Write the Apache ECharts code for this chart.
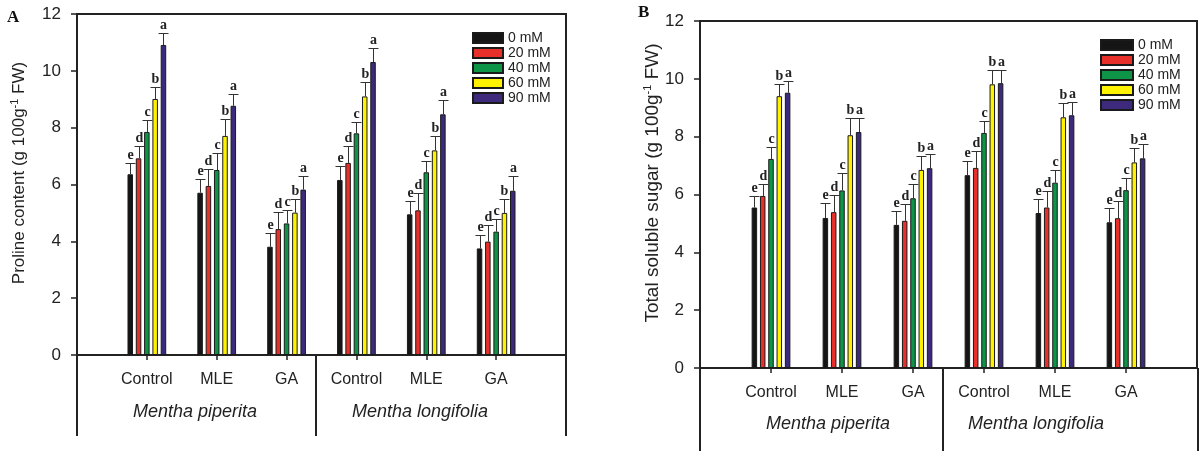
<!DOCTYPE html>
<html>
<head>
<meta charset="utf-8">
<script src="https://cdn.jsdelivr.net/npm/echarts@6/dist/echarts.min.js"></script>
<style>
html, body { margin: 0; padding: 0; background: #fff; }
#chart { width: 1200px; height: 451px; }
</style>
</head>
<body>
<div id="chart"></div>
<script>
const treatments = ['Control', 'MLE', 'GA', 'Control', 'MLE', 'GA'];
const species = ['Mentha piperita', 'Mentha longifolia'];
const concentrations = ['0 mM', '20 mM', '40 mM', '60 mM', '90 mM'];
const letters = ['e', 'd', 'c', 'b', 'a'];

// A: proline content (g 100g-1 FW), one array per concentration, over the 6 treatments
const proline0 = [6.36, 5.71, 3.81, 6.16, 4.95, 3.75];
const proline20 = [6.92, 5.95, 4.43, 6.76, 5.09, 3.99];
const proline40 = [7.85, 6.51, 4.63, 7.80, 6.43, 4.34];
const proline60 = [9.01, 7.71, 5.01, 9.10, 7.20, 5.00];
const proline90 = [10.91, 8.77, 5.82, 10.31, 8.47, 5.78];
const prolineErr0 = [0.38, 0.47, 0.49, 0.49, 0.48, 0.47];
const prolineErr20 = [0.44, 0.58, 0.60, 0.59, 0.60, 0.58];
const prolineErr40 = [0.41, 0.60, 0.46, 0.41, 0.41, 0.43];
const prolineErr60 = [0.43, 0.58, 0.47, 0.51, 0.51, 0.48];
const prolineErr90 = [0.42, 0.42, 0.49, 0.49, 0.50, 0.51];

// B: total soluble sugar (g 100g-1 FW)
const sugar0 = [5.55, 5.19, 4.95, 6.67, 5.36, 5.04];
const sugar20 = [5.95, 5.39, 5.09, 6.92, 5.55, 5.18];
const sugar40 = [7.23, 6.14, 5.87, 8.13, 6.41, 6.15];
const sugar60 = [9.40, 8.05, 6.85, 9.81, 8.67, 7.11];
const sugar90 = [9.52, 8.16, 6.91, 9.85, 8.74, 7.25];
const sugarErr0 = [0.41, 0.53, 0.48, 0.48, 0.48, 0.50];
const sugarErr20 = [0.42, 0.60, 0.58, 0.60, 0.57, 0.58];
const sugarErr40 = [0.40, 0.60, 0.49, 0.41, 0.44, 0.41];
const sugarErr60 = [0.42, 0.58, 0.49, 0.49, 0.50, 0.51];
const sugarErr90 = [0.40, 0.47, 0.48, 0.45, 0.45, 0.50];

const yMin = 0, yMax = 12, yStep = 2;

const colors = ['#151515', '#E8302B', '#0E9447', '#FFF200', '#3D2A7D'];
const sans = '"Liberation Sans", Arial, sans-serif';
const serif = '"Liberation Serif", "Times New Roman", serif';
const ink = '#222';

const BAR_W = 5.5;
const BAR_GAP = 0.51;
const PITCH = BAR_W * (1 + BAR_GAP);

const panels = [
  { left: 77, top: 14, width: 489, height: 341, divider: 316, bottom: 436, speciesDy: 57,
    means: [proline0, proline20, proline40, proline60, proline90],
    errs: [prolineErr0, prolineErr20, prolineErr40, prolineErr60, prolineErr90],
    tag: 'A', name: 'Proline content (g 100g', nameSize: 17, nameX: 19, nameY: 173,
    speciesX: [195, 420], legendLeft: 472, legendTop: 31, legendW: 30 },
  { left: 700, top: 21, width: 498, height: 347, divider: 943, bottom: 451, speciesDy: 56,
    means: [sugar0, sugar20, sugar40, sugar60, sugar90],
    errs: [sugarErr0, sugarErr20, sugarErr40, sugarErr60, sugarErr90],
    tag: 'B', name: 'Total soluble sugar (g 100g', nameSize: 19, nameX: 653, nameY: 183,
    speciesX: [828, 1036], legendLeft: 1100, legendTop: 38, legendW: 32 }
];

const grid = [], xAxis = [], yAxis = [], series = [], legend = [], graphic = [];

panels.forEach((p, gi) => {
  grid.push({ left: p.left, top: p.top, width: p.width, height: p.height,
    show: true, borderColor: ink, borderWidth: 2, containLabel: false });

  xAxis.push({
    type: 'category', gridIndex: gi, boundaryGap: false,
    data: [''].concat(treatments, ['']),
    axisLine: { lineStyle: { color: ink, width: 2 } },
    axisTick: { interval: (i) => i > 0 && i <= treatments.length, length: 5,
      lineStyle: { color: ink, width: 1.5 } },
    axisLabel: { interval: 0, margin: 17, fontSize: 16, color: ink, fontFamily: sans },
    splitLine: { show: false }
  });

  yAxis.push({
    type: 'value', gridIndex: gi, min: yMin, max: yMax, interval: yStep,
    axisLine: { show: true, lineStyle: { color: ink, width: 2 } },
    axisTick: { show: true, length: 6, lineStyle: { color: ink, width: 1.5 } },
    axisLabel: { margin: 16, fontSize: 17, color: ink, fontFamily: sans },
    splitLine: { show: false }
  });

  p.means.forEach((arr, s) => {
    series.push({
      type: 'bar', name: concentrations[s], xAxisIndex: gi, yAxisIndex: gi,
      barWidth: BAR_W, barGap: (BAR_GAP * 100) + '%',
      itemStyle: { color: colors[s], borderColor: '#1a1a1a', borderWidth: 1 },
      data: arr.map((v, i) => [i + 1, v])
    });
  });

  // error bars + significance letters
  const errData = [];
  p.means.forEach((arr, s) => {
    arr.forEach((v, i) => errData.push([i + 1, v, p.errs[s][i], s]));
  });
  series.push({
    type: 'custom', xAxisIndex: gi, yAxisIndex: gi, z: 5,
    data: errData,
    renderItem: (params, api) => {
      const g = api.value(0), m = api.value(1), e = api.value(2), s = api.value(3);
      const base = api.coord([g, m]);
      const top = api.coord([g, m + e]);
      const x = Math.round(base[0] + (s - 2) * PITCH) + 0.5;
      const ty = Math.round(top[1]) + 0.5;
      const st = { stroke: '#333', lineWidth: 1 };
      return {
        type: 'group',
        children: [
          { type: 'line', shape: { x1: x, y1: base[1], x2: x, y2: ty }, style: st },
          { type: 'line', shape: { x1: x - 5, y1: ty, x2: x + 5, y2: ty }, style: st },
          { type: 'text', x: x, y: ty - 1,
            style: { text: letters[s], align: 'center', verticalAlign: 'bottom',
              fontSize: 14, fontWeight: 'bold', fontFamily: serif, fill: '#222' } }
        ]
      };
    }
  });

  legend.push({
    orient: 'vertical', left: p.legendLeft, top: p.legendTop, padding: 0,
    itemWidth: p.legendW, itemHeight: 10, itemGap: 1, icon: 'rect',
    data: concentrations,
    textStyle: { fontSize: 14, color: ink, fontFamily: sans, lineHeight: 14 }
  });

  const y0 = p.top + p.height;
  const right = p.left + p.width;
  [p.left, p.divider, right].forEach((lx) => {
    graphic.push({ type: 'line', silent: true,
      shape: { x1: lx, y1: y0, x2: lx, y2: p.bottom },
      style: { stroke: ink, lineWidth: 2 } });
  });
  species.forEach((sp, k) => {
    graphic.push({ type: 'text', x: p.speciesX[k], y: y0 + p.speciesDy,
      style: { text: sp, align: 'center', verticalAlign: 'middle',
        fontSize: 18, fontStyle: 'italic', fontFamily: sans, fill: ink } });
  });
  graphic.push({ type: 'text', x: p.nameX, y: p.nameY, rotation: Math.PI / 2,
    style: {
      text: '{n|' + p.name + '}{s|-1}{n| FW)}',
      align: 'center', verticalAlign: 'middle',
      rich: {
        n: { fontSize: p.nameSize, fontFamily: sans, fill: ink, lineHeight: p.nameSize + 3 },
        s: { fontSize: 11, fontFamily: sans, fill: ink, verticalAlign: 'top', lineHeight: 12 }
      }
    } });
  graphic.push({ type: 'text', x: gi === 0 ? 7 : 638, y: gi === 0 ? 9 : 4,
    style: { text: p.tag, fontSize: 17, fontWeight: 'bold', fontFamily: serif, fill: '#111' } });
});

const chart = echarts.init(document.getElementById('chart'));
chart.setOption({
  backgroundColor: '#fff',
  animation: false,
  grid, xAxis, yAxis, series, legend, graphic
});
</script>
</body>
</html>
